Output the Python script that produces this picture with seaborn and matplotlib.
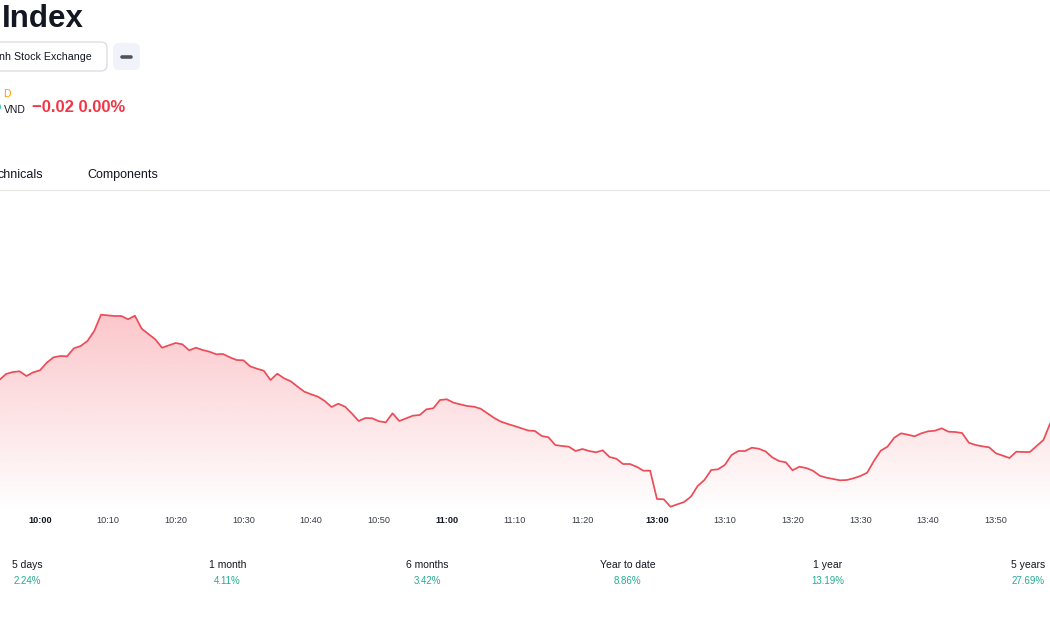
import numpy as np
import matplotlib
matplotlib.use("Agg")
import matplotlib.pyplot as plt
import seaborn as sns
from matplotlib.patches import FancyBboxPatch, Circle, Polygon

# ---------------- data ----------------
minute_index = list(range(156))          # trading minutes, 0 = 9:54, lunch break removed
index_level = [
    140, 146, 148, 148.7, 144, 147.7, 149.7, 157.3, 162.7, 164,
    163.7, 171.7, 174, 179, 189, 205.3, 204.7, 204, 204, 200.7,
    204.3, 191.3, 186, 180.7, 172.3, 174.7, 177, 175.7, 169.7, 172.3,
    170, 168.3, 165.7, 166, 162.7, 160, 159.7, 153.7, 151.3, 149.3,
    140, 146.3, 141.7, 138.7, 133.3, 128.3, 125.7, 123.3, 119, 113,
    116.3, 113.3, 106.5, 99, 102, 101.7, 98.7, 97.7, 106.7, 99,
    101.7, 104.3, 105, 110.7, 111.7, 120, 120.7, 117.3, 115.7, 114,
    113.3, 111.3, 106.7, 102, 98.3, 96, 94, 91.7, 89.5, 89,
    84, 82.7, 75, 74, 73.3, 69, 71, 69, 67.7, 69.7,
    63, 61.3, 56, 56, 53.3, 49.3, 49.3, 21, 20.7, 13.3,
    15.7, 18, 23.3, 34, 40, 50, 50.7, 55, 65, 69,
    69, 72.3, 71.3, 68.7, 62.7, 59, 57.7, 49.7, 53.3, 52,
    49.3, 44.3, 42.3, 41, 39.7, 40, 41.7, 44, 47.3, 59,
    69.3, 73.3, 82.3, 86.7, 85.3, 83.7, 86.7, 88.7, 89.3, 91.7,
    88.3, 88, 87, 77.3, 75, 73.7, 72.7, 66.7, 64.3, 62,
    68.3, 68, 68, 74, 80, 96.7,
]
tick_positions = [6, 16, 26, 36, 46, 56, 66, 76, 86, 97, 107, 117, 127, 137, 147]
tick_labels = ["10:00", "10:10", "10:20", "10:30", "10:40", "10:50", "11:00",
               "11:10", "11:20", "13:00", "13:10", "13:20", "13:30", "13:40", "13:50"]
hour_labels = ["10:00", "11:00", "13:00"]
periods = ["5 days", "1 month", "6 months", "Year to date", "1 year", "5 years"]
period_changes = ["2.24%", "4.11%", "3.42%", "8.86%", "13.19%", "27.69%"]

# ---------------- style ----------------
sns.set_style("white")
plt.rcParams['font.family'] = ['Liberation Sans', 'DejaVu Sans']

RED = "#f23645"
GREEN = "#22ab94"
DARK = "#131722"

W, H = 1050, 630
fig = plt.figure(figsize=(W / 100, H / 100), dpi=100)

# page overlay in pixel coordinates
page = fig.add_axes([0, 0, 1, 1])
page.set_xlim(0, W)
page.set_ylim(H, 0)
page.axis("off")

page.text(2, 19, "Index", fontsize=22.5, fontweight="bold", color=DARK, va="center", ha="left")

page.add_patch(FancyBboxPatch((-12, 42), 119, 29, boxstyle="round,pad=0,rounding_size=6",
                              facecolor="white", edgecolor="#d8dbe2", linewidth=0.9))
page.text(-1, 57, "nh Stock Exchange", fontsize=7.7, color=DARK, va="center", ha="left")
page.add_patch(FancyBboxPatch((113, 43), 27, 27, boxstyle="round,pad=0,rounding_size=6",
                              facecolor="#f0f3fa", edgecolor="none"))
page.plot([122, 131], [57, 57], color="#50535e", linewidth=2.6, solid_capstyle="round")

page.text(3, 94, "D", fontsize=7.5, color="#ff9800", va="center", ha="left")
page.add_patch(Circle((-3.5, 107), 4.5, facecolor="#42bda8", edgecolor="none"))
page.text(4, 110, "VND", fontsize=7.5, color=DARK, va="center", ha="left")
page.text(32, 108, "\u22120.02 0.00%", fontsize=12, fontweight="bold", color=RED,
          va="center", ha="left")

page.text(-2, 175, "chnicals", fontsize=9, color=DARK, va="center", ha="left")
page.text(87, 175, "Components", fontsize=9, color=DARK, va="center", ha="left")
page.plot([0, W], [189.5, 189.5], color="#e6e6e6", linewidth=0.8)

for k, (p, c) in enumerate(zip(periods, period_changes)):
    cx = 27 + 200.2 * k
    page.text(cx, 565, p, fontsize=7.5, color=DARK, va="center", ha="center")
    page.text(cx, 581, c, fontsize=7.0, color=GREEN, va="center", ha="center")

# ---------------- chart ----------------
top_px, bot_px = 300, 512
ax = fig.add_axes([0, (H - bot_px) / H, 1, (bot_px - top_px) / H])
ax.patch.set_alpha(0)
y_lo, y_hi = 520 - bot_px, 520 - top_px
x_lo, x_hi = 0.7 / 6.78, 1050.7 / 6.78

# gradient fill below the line
n = 256
grad = np.zeros((n, 1, 4))
grad[:, 0, 0] = 242 / 255
grad[:, 0, 1] = 54 / 255
grad[:, 0, 2] = 69 / 255
grad[:, 0, 3] = np.linspace(0.0, 0.30, n)
im = ax.imshow(grad, extent=[0, len(minute_index) - 1, y_lo, y_hi], origin="lower",
               aspect="auto", zorder=1, interpolation="bilinear")
verts = list(zip(minute_index, index_level)) + [(minute_index[-1], y_lo), (minute_index[0], y_lo)]
poly = Polygon(verts, closed=True, facecolor="none", edgecolor="none")
ax.add_patch(poly)
im.set_clip_path(poly)

sns.lineplot(x=minute_index, y=index_level, ax=ax, color="#ec4c58", linewidth=1.25, zorder=3)

ax.set_xlim(x_lo, x_hi)
ax.set_ylim(y_lo, y_hi)
ax.set_yticks([])
ax.set_xticks(tick_positions)
ax.set_xticklabels(tick_labels)
ax.tick_params(axis="x", length=0, pad=2.8, labelsize=6.6, colors="#3a3d48")
for lab in ax.get_xticklabels():
    if lab.get_text() in hour_labels:
        lab.set_fontweight("bold")
        lab.set_color(DARK)
for s in ax.spines.values():
    s.set_visible(False)
ax.set_xlabel("")
ax.set_ylabel("")

fig.savefig("out.png", dpi=100, facecolor="white")
